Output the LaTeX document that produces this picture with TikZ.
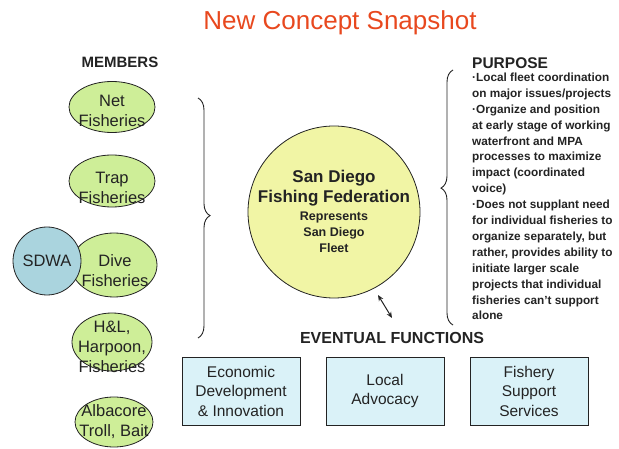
\documentclass[tikz,border=0pt]{standalone}
\usepackage{fontspec}
\setmainfont{Liberation Sans}
\usetikzlibrary{shapes.geometric, arrows.meta, positioning, decorations.pathreplacing}

\definecolor{titlered}{RGB}{232,72,30}
\definecolor{memgreen}{RGB}{206,238,152}
\definecolor{sdwablue}{RGB}{170,212,222}
\definecolor{fedyellow}{RGB}{241,245,165}
\definecolor{funcblue}{RGB}{218,242,248}
\definecolor{inkgray}{RGB}{35,35,35}

\begin{document}
\begin{tikzpicture}[
        x=1pt, y=-1pt,
        node distance=25pt,
        member/.style={ellipse, draw=inkgray, line width=0.8pt, fill=memgreen, inner sep=0pt},
        memtext/.style={align=center, font=\fontsize{16.5}{20}\selectfont, text=inkgray, inner sep=0pt},
        assoc/.style={circle, draw=inkgray, line width=0.8pt, fill=sdwablue, minimum size=68pt, inner sep=0pt, font=\fontsize{16.5}{20}\selectfont, text=inkgray},
        fed/.style={circle, draw=inkgray, line width=0.8pt, fill=fedyellow, minimum size=172pt, inner sep=0pt},
        func/.style={rectangle, draw=inkgray, line width=1pt, fill=funcblue, minimum width=118pt, minimum height=68pt, inner sep=0pt, align=center, font=\fontsize{15.5}{19.5}\selectfont, text=inkgray},
        heading/.style={font=\bfseries\fontsize{15}{18}\selectfont, text=inkgray, inner sep=0pt},
        bracket/.style={decorate, decoration={brace, amplitude=12pt}, draw=inkgray, line width=0.9pt},
        arrowline/.style={{Stealth[length=6pt, width=5pt]}-{Stealth[length=6pt, width=5pt]}, line width=1pt, draw=inkgray}
    ]
    \useasboundingbox (0,0) rectangle (619,449);

    \node[font=\fontsize{26}{30}\selectfont, text=titlered, inner sep=0pt] (title) at (340,23) {New Concept Snapshot};

    \node[heading] (members) at (120,62) {MEMBERS};
    \node[member, minimum width=86pt, minimum height=51pt] (net) at (112,107) {};
    \node[memtext] (nettext) at (112,111) {Net\\Fisheries};
    \node[member, minimum width=86pt, minimum height=52pt] (trap) at (112,181) {};
    \node[memtext] (traptext) at (112,188) {Trap\\Fisheries};
    \node[member, minimum width=86pt, minimum height=64pt] (dive) at (114,265) {};
    \node[memtext] (divetext) at (115,271) {Dive\\Fisheries};
    \node[assoc] (sdwa) at (47,261) {SDWA};
    \node[member, minimum width=80pt, minimum height=58pt] (hl) at (112,342) {};
    \node[memtext] (hltext) at (112,347) {H\&L,\\Harpoon,\\Fisheries};
    \node[member, minimum width=78pt, minimum height=50pt] (albacore) at (114,422) {};
    \node[memtext] (albacoretext) at (114,422) {Albacore\\Troll, Bait};

    \coordinate (membtop) at (198,98);
    \coordinate (membbot) at (198,338);
    \draw[bracket, decoration={aspect=0.49}] (membtop) -- (membbot);

    \node[fed] (sdff) at (334,212) {};
    \node[align=center, font=\bfseries\fontsize{17}{20}\selectfont, text=inkgray, inner sep=0pt] (fedname) at (334,188) {San Diego\\Fishing Federation};
    \node[align=center, font=\bfseries\fontsize{12.5}{16}\selectfont, text=inkgray, inner sep=0pt] (fednote) at (334,232) {Represents\\San Diego\\Fleet};

    \coordinate (purpbot) at (453,325);
    \coordinate (purptop) at (453,70);
    \draw[bracket, decoration={aspect=0.537}] (purpbot) -- (purptop);

    \node[heading, font=\bfseries\fontsize{15.5}{18}\selectfont, anchor=west] (purpose) at (472,63) {PURPOSE};
    \node[below=4pt of purpose.south west, anchor=north west, align=left, inner sep=0pt, text=inkgray, font=\bfseries\fontsize{11.8}{15.9}\selectfont] (aims) {·Local fleet coordination\\on major issues/projects\\·Organize and position\\at early stage of working\\waterfront and MPA\\processes to maximize\\impact (coordinated\\voice)\\·Does not supplant need\\for individual fisheries to\\organize separately, but\\rather, provides ability to\\initiate larger scale\\projects that individual\\fisheries can't support\\alone};

    \coordinate (fedlink) at (378,295);
    \coordinate (funclink) at (392,318);
    \draw[arrowline] (fedlink) -- (funclink);

    \node[heading, font=\bfseries\fontsize{16}{19}\selectfont] (eventual) at (392,338) {EVENTUAL FUNCTIONS};
    \node[func] (econ) at (241,391) {Economic\\Development\\\& Innovation};
    \node[func, right=of econ] (advocacy) {Local\\Advocacy};
    \node[func, right=of advocacy] (support) {Fishery\\Support\\Services};
\end{tikzpicture}
\end{document}
